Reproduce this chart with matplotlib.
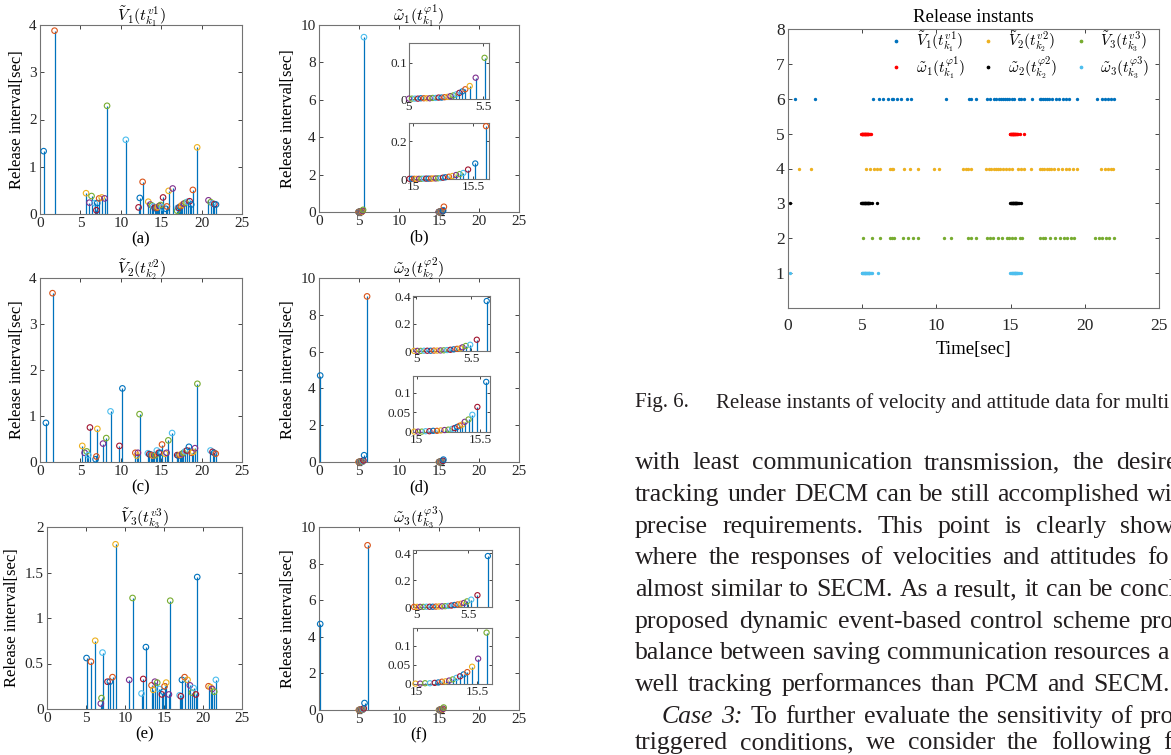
import numpy as np
import matplotlib
matplotlib.use('Agg')
import matplotlib.pyplot as plt
from matplotlib.ticker import FuncFormatter

plt.rcParams['font.family'] = ['Liberation Serif', 'DejaVu Serif']
plt.rcParams['mathtext.fontset'] = 'cm'

# release instants [sec] (the last one has no interval) and release intervals [sec]
v1_t = [0.45, 1.8, 5.7, 6.12, 6.38, 6.76, 6.98, 7.08, 7.32, 7.64, 8.0, 8.3, 10.62, 12.2, 12.35,
        12.7, 13.4, 13.64, 13.85, 14.02, 14.2, 14.33, 14.46, 14.6, 14.75, 14.92, 15.1, 15.23,
        15.58, 15.7, 15.92, 16.42, 16.97, 17.04, 17.17, 17.3, 17.45, 17.62, 17.82, 18.03, 18.27,
        18.52, 18.72, 18.92, 19.45, 20.85, 21.13, 21.37, 21.58, 21.78, 21.98]
v1_dt = [1.33, 3.88, 0.44, 0.24, 0.38, 0.23, 0.08, 0.23, 0.33, 0.35, 0.33, 2.29, 1.57, 0.14, 0.34,
         0.68, 0.26, 0.2, 0.18, 0.16, 0.13, 0.12, 0.13, 0.15, 0.17, 0.19, 0.14, 0.35, 0.11, 0.16,
         0.49, 0.54, 0.07, 0.13, 0.13, 0.15, 0.17, 0.2, 0.22, 0.24, 0.26, 0.27, 0.2, 0.51, 1.41,
         0.29, 0.25, 0.22, 0.21, 0.2]

v2_t = [0.73, 1.55, 5.23, 5.52, 5.78, 5.97, 6.18, 6.88, 6.98, 7.1, 7.8, 8.2, 8.73, 9.83, 10.2,
        11.8, 11.98, 12.12, 12.32, 13.35, 13.53, 13.7, 13.85, 14.0, 14.15, 14.3, 14.46, 14.7,
        14.9, 15.1, 15.48, 15.67, 15.88, 16.35, 16.98, 17.13, 17.27, 17.42, 17.58, 17.75, 17.95,
        18.18, 18.43, 18.76, 18.96, 19.18, 19.48, 21.1, 21.35, 21.55, 21.75, 21.93]
v2_dt = [0.85, 3.67, 0.35, 0.2, 0.23, 0.15, 0.75, 0.06, 0.12, 0.72, 0.4, 0.52, 1.1, 0.35, 1.6,
         0.2, 0.14, 0.2, 1.04, 0.19, 0.17, 0.16, 0.15, 0.14, 0.15, 0.15, 0.25, 0.2, 0.2, 0.38,
         0.18, 0.2, 0.47, 0.63, 0.15, 0.14, 0.15, 0.16, 0.17, 0.2, 0.23, 0.25, 0.33, 0.2, 0.22,
         0.3, 1.7, 0.25, 0.22, 0.2, 0.18]

v3_t = [5.07, 5.63, 6.18, 6.9, 6.99, 7.12, 7.76, 8.06, 8.4, 8.79, 10.54, 10.97, 12.12, 12.34,
        12.68, 13.4, 13.62, 13.83, 14.13, 14.4, 14.73, 14.9, 15.07, 15.28, 15.63, 15.8, 17.0,
        17.16, 17.3, 17.64, 18.02, 18.32, 18.58, 18.8, 19.09, 19.26, 20.71, 20.97, 21.18, 21.44,
        21.65, 21.97]
v3_dt = [0.56, 0.52, 0.75, 0.06, 0.12, 0.62, 0.30, 0.30, 0.35, 1.81, 0.32, 1.22, 0.17, 0.33,
         0.68, 0.26, 0.21, 0.30, 0.29, 0.22, 0.16, 0.19, 0.25, 0.29, 0.16, 1.19, 0.15, 0.14,
         0.32, 0.35, 0.32, 0.26, 0.18, 0.23, 0.16, 1.45, 0.25, 0.24, 0.22, 0.19, 0.32]

w1_t = [4.94, 4.96, 4.98, 5.00, 5.02, 5.04, 5.06, 5.08, 5.10, 5.12, 5.14, 5.16, 5.18, 5.20, 5.22,
        5.24, 5.26, 5.28, 5.30, 5.32, 5.34, 5.36, 5.38, 5.41, 5.45, 5.51, 5.62,
        14.97, 14.99, 15.01, 15.03, 15.05, 15.07, 15.09, 15.11, 15.13, 15.15, 15.17, 15.19,
        15.21, 15.23, 15.25, 15.27, 15.30, 15.33, 15.36, 15.39, 15.42, 15.46, 15.52, 15.61, 15.88]
w1_dt = [0.001, 0.001, 0.001, 0.001, 0.001, 0.001, 0.001, 0.002, 0.002, 0.002, 0.002, 0.003,
         0.003, 0.004, 0.004, 0.005, 0.006, 0.008, 0.010, 0.013, 0.017, 0.021, 0.027, 0.036,
         0.059, 0.114, 9.35,
         0.001, 0.001, 0.001, 0.001, 0.001, 0.001, 0.002, 0.002, 0.002, 0.002, 0.003, 0.003,
         0.004, 0.005, 0.007, 0.009, 0.012, 0.016, 0.021, 0.026, 0.032, 0.050, 0.082, 0.279]

w2_t = [0.15, 4.95, 4.98, 5.01, 5.04, 5.07, 5.10, 5.13, 5.16, 5.19, 5.22, 5.25, 5.28, 5.31, 5.34,
        5.37, 5.40, 5.42, 5.45, 5.49, 5.55, 5.64, 6.01,
        14.98, 15.01, 15.04, 15.07, 15.10, 15.13, 15.16, 15.19, 15.22, 15.25, 15.28, 15.30,
        15.32, 15.34, 15.36, 15.38, 15.41, 15.44, 15.48, 15.55, 15.68]
w2_dt = [4.7, 0.001, 0.001, 0.001, 0.001, 0.002, 0.002, 0.002, 0.003, 0.003, 0.004, 0.005, 0.007,
         0.009, 0.012, 0.016, 0.020, 0.027, 0.037, 0.046, 0.083, 0.368, 9.0,
         0.001, 0.001, 0.001, 0.002, 0.002, 0.003, 0.003, 0.004, 0.005, 0.006, 0.008, 0.010,
         0.013, 0.016, 0.019, 0.026, 0.032, 0.044, 0.064, 0.128]

w3_t = [0.15, 4.98, 5.01, 5.04, 5.07, 5.10, 5.13, 5.16, 5.19, 5.22, 5.25, 5.28, 5.31, 5.34, 5.37,
        5.40, 5.43, 5.46, 5.49, 5.53, 5.59, 5.69, 6.07,
        14.99, 15.03, 15.07, 15.11, 15.15, 15.18, 15.21, 15.24, 15.27, 15.30, 15.33, 15.36,
        15.39, 15.42, 15.46, 15.51, 15.58, 15.71]
w3_dt = [4.7, 0.001, 0.001, 0.001, 0.001, 0.002, 0.002, 0.002, 0.003, 0.004, 0.005, 0.006, 0.008,
         0.011, 0.015, 0.019, 0.024, 0.030, 0.042, 0.055, 0.088, 0.38, 9.0,
         0.001, 0.001, 0.002, 0.002, 0.003, 0.004, 0.006, 0.007, 0.009, 0.012, 0.016, 0.020,
         0.025, 0.031, 0.045, 0.066, 0.134]

titles = [r'$\tilde{V}_1(t^{v1}_{k_1})$', r'$\tilde{\omega}_1(t^{\varphi 1}_{k_1})$',
          r'$\tilde{V}_2(t^{v2}_{k_2})$', r'$\tilde{\omega}_2(t^{\varphi 2}_{k_2})$',
          r'$\tilde{V}_3(t^{v3}_{k_3})$', r'$\tilde{\omega}_3(t^{\varphi 3}_{k_3})$']
panel_tags = ['(a)', '(b)', '(c)', '(d)', '(e)', '(f)']

# MATLAB default colour order (marker colours of the stems)
cycle = ['#0072BD', '#D95319', '#EDB120', '#7E2F8E', '#77AC30', '#4DBEEE', '#A2142F']

W, H = 1171, 755
fig = plt.figure(figsize=(W / 100, H / 100), dpi=100)


def px(l, t, r, b):
    return [l / W, 1 - b / H, (r - l) / W, (b - t) / H]


def dress(ax, size):
    ax.tick_params(direction='in', top=True, right=True, length=3, width=0.6,
                   labelsize=size, colors='0.15', pad=2.5)
    for sp in ax.spines.values():
        sp.set_color('0.45')
        sp.set_linewidth(0.8)
    ax.xaxis.set_major_formatter(FuncFormatter(lambda v, p: '%g' % v))
    ax.yaxis.set_major_formatter(FuncFormatter(lambda v, p: '%g' % v))


def draw_stems(ax, t, dt, lo=-np.inf, hi=np.inf, s=16):
    t = np.array(t[:len(dt)])
    dt = np.array(dt)
    cols = np.array([cycle[i % 7] for i in range(len(dt))])
    m = (t >= lo) & (t <= hi)
    ax.vlines(t[m], 0, dt[m], color='#0072BD', lw=0.9, zorder=2)
    ax.scatter(t[m], dt[m], s=s, facecolors='none', edgecolors=cols[m],
               linewidths=0.8, zorder=3, clip_on=False)


series = [(v1_t, v1_dt), (w1_t, w1_dt), (v2_t, v2_dt), (w2_t, w2_dt), (v3_t, v3_dt), (w3_t, w3_dt)]
rects = [px(40, 25, 242, 214), px(319, 25, 519, 212),
         px(40, 278, 242, 462), px(319, 278, 519, 462),
         px(47, 527, 242, 709), px(319, 527, 519, 710)]
ylims = [4, 10, 4, 10, 2, 10]
yticks = [[0, 1, 2, 3, 4], [0, 2, 4, 6, 8, 10], [0, 1, 2, 3, 4], [0, 2, 4, 6, 8, 10],
          [0, 0.5, 1, 1.5, 2], [0, 2, 4, 6, 8, 10]]

for k in range(6):
    ax = fig.add_axes(rects[k])
    t, dt = series[k]
    draw_stems(ax, t, dt)
    ax.set_xlim(0, 25)
    ax.set_xticks([0, 5, 10, 15, 20, 25])
    ax.set_ylim(0, ylims[k])
    ax.set_yticks(yticks[k])
    dress(ax, 11)
    ax.set_title(titles[k], fontsize=11.5, pad=3)
    ax.set_xlabel(panel_tags[k], fontsize=12, labelpad=1)
    ax.set_ylabel('Release interval[sec]', fontsize=12, labelpad=3)

# zoomed insets of the attitude panels
insets = [
    (1, px(409, 43, 489, 99), (5.0, 5.54), (0, 0.155), [5, 5.5], [0, 0.1]),
    (1, px(409, 123, 489, 179), (14.966, 15.635), (0, 0.296), [15, 15.5], [0, 0.2]),
    (3, px(413, 296, 490, 351), (4.97, 5.67), (0, 0.405), [5, 5.5], [0, 0.2, 0.4]),
    (3, px(413, 376, 490, 432), (14.97, 15.58), (0, 0.143), [15, 15.5], [0, 0.05, 0.1]),
    (5, px(413, 550, 492, 607), (4.97, 5.73), (0, 0.425), [5, 5.5], [0, 0.2, 0.4]),
    (5, px(413, 628, 492, 684), (14.97, 15.625), (0, 0.146), [15, 15.5], [0, 0.05, 0.1]),
]
for k, r, xl, yl, xt, yt in insets:
    axi = fig.add_axes(r)
    t, dt = series[k]
    draw_stems(axi, t, dt, xl[0], xl[1], s=14)
    axi.set_xlim(*xl)
    axi.set_ylim(*yl)
    axi.set_xticks(xt)
    axi.set_yticks(yt)
    dress(axi, 9.5)
    axi.tick_params(length=2, pad=1.5)

# release instants chart
levels = [6, 5, 4, 3, 2, 1]
inst_series = [v1_t, w1_t, v2_t, w2_t, v3_t, w3_t]
inst_colors = ['#0072BD', '#FF0000', '#EDB120', '#000000', '#77AC30', '#4DBEEE']
inst_labels = [r'$\tilde{V}_1(t^{v1}_{k_1})$', r'$\tilde{\omega}_1(t^{\varphi 1}_{k_1})$',
               r'$\tilde{V}_2(t^{v2}_{k_2})$', r'$\tilde{\omega}_2(t^{\varphi 2}_{k_2})$',
               r'$\tilde{V}_3(t^{v3}_{k_3})$', r'$\tilde{\omega}_3(t^{\varphi 3}_{k_3})$']

axr = fig.add_axes(px(788, 29, 1159, 308))
for t, lev, col, lab in zip(inst_series, levels, inst_colors, inst_labels):
    axr.plot(t, np.full(len(t), lev), '.', color=col, ms=2.8, label=lab)
axr.set_xlim(0, 25)
axr.set_ylim(0, 8)
axr.set_xticks([0, 5, 10, 15, 20, 25])
axr.set_yticks([1, 2, 3, 4, 5, 6, 7, 8])
dress(axr, 12.5)
axr.tick_params(axis='x', pad=7)
axr.set_title('Release instants', fontsize=13.5, pad=5)
axr.set_xlabel('Time[sec]', fontsize=13.5, labelpad=5)
axr.legend(loc='upper right', bbox_to_anchor=(1.0, 1.03), ncol=3, frameon=False, fontsize=11,
           markerscale=1.2, handlelength=1.0, handletextpad=0.8, columnspacing=1.0,
           labelspacing=0.0, borderaxespad=0.2)

# page text around the figure
renderer = fig.canvas.get_renderer()


def put_line(text, x0, x1, y, size, n_italic=0):
    words = text.split(' ')
    items = [fig.text(0, 1 - y / H, w, fontsize=size, va='center', color='#231f20',
                      style='italic' if i < n_italic else 'normal')
             for i, w in enumerate(words)]
    widths = [it.get_window_extent(renderer).width for it in items]
    gap = (x1 - x0 - sum(widths[:-1])) / (len(items) - 1)
    x = x0
    for it, w in zip(items, widths):
        it.set_x(x / W)
        x += w + gap


fig.text(635 / W, 1 - 403 / H, 'Fig. 6.', fontsize=15, va='center', color='#231f20')
fig.text(716 / W, 1 - 403 / H, 'Release instants of velocity and attitude data for multi',
         fontsize=15, va='center', color='#231f20')

body = [
    ('with least communication transmission, the desired', 635, 1116, 463, 0),
    ('tracking under DECM can be still accomplished wi', 635, 1147, 495, 0),
    ('precise requirements. This point is clearly show', 635, 1120, 527, 0),
    ('where the responses of velocities and attitudes fo', 635, 1147, 558, 0),
    ('almost similar to SECM. As a result, it can be concl', 635, 1120, 590, 0),
    ('proposed dynamic event-based control scheme prov', 635, 1140, 622, 0),
    ('balance between saving communication resources a', 635, 1157, 653, 0),
    ('well tracking performances than PCM and SECM.', 635, 1093, 685, 0),
    ('Case 3: To further evaluate the sensitivity of pro', 662, 1140, 717, 2),
    ('triggered conditions, we consider the following f', 635, 1163, 743, 0),
]
for text, x0, x1, y, n_it in body:
    put_line(text, x0, x1, y, 18.5, n_it)

fig.savefig('out.png', dpi=100)
